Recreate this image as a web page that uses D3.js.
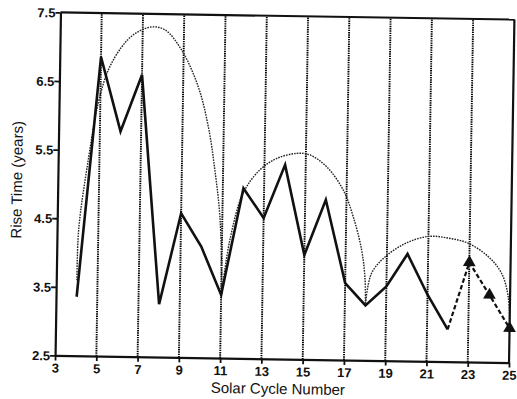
<!DOCTYPE html>
<html>
<head>
<meta charset="utf-8">
<script src="https://cdn.jsdelivr.net/npm/d3@7"></script>
<style>
  body { margin: 0; background: #fff; }
  svg { display: block; }
</style>
</head>
<body>
<div id="canvas"></div>
<script>
// rise time of each solar cycle (observed)
var cycles = [4, 5, 6, 7, 8, 9, 10, 11, 12, 13, 14, 15, 16, 17, 18, 19, 20, 21, 22];
var riseTimes = [3.36, 6.86, 5.78, 6.61, 3.27, 4.6, 4.12, 3.42, 4.98, 4.55, 5.33, 4.02, 4.83, 3.62, 3.3, 3.58, 4.06, 3.47, 2.97];

// predicted cycles (dashed, triangles)
var predCycles = [22, 23, 24, 25];
var predRise = [2.97, 3.95, 3.48, 3.0];

// dotted envelope arcs
var arc1 = [[4.0, 3.6], [4.05, 4.35], [4.46, 5.36], [4.9, 6.19], [5.36, 6.67], [5.99, 7.01], [6.63, 7.21], [7.43, 7.31], [8.08, 7.27], [8.9, 6.98], [9.73, 6.45], [10.25, 5.87], [10.6, 5.24], [10.88, 4.56], [11.01, 3.69], [11.02, 3.44]];
var arc2 = [[11.02, 3.44], [11.38, 4.22], [11.99, 4.91], [12.78, 5.25], [13.58, 5.42], [14.55, 5.5], [15.2, 5.48], [16.02, 5.31], [16.83, 4.98], [17.34, 4.59], [17.77, 4.11], [17.95, 3.72], [18.0, 3.33]];
var arc3 = [[18.0, 3.33], [18.27, 3.77], [18.91, 4.01], [19.87, 4.21], [21.0, 4.32], [21.96, 4.3], [22.93, 4.23], [23.91, 4.04], [24.57, 3.8], [24.91, 3.46], [25.0, 3.05]];

var gridCycles = [5, 7, 9, 11, 13, 15, 17, 19, 21, 23];
var xTicks = [3, 5, 7, 9, 11, 13, 15, 17, 19, 21, 23, 25];
var yTicks = [2.5, 3.5, 4.5, 5.5, 6.5, 7.5];

var W = 517, H = 399;
var pLeft = 57.75, pRight = 511.75, pTop = 16, pBottom = 359;

var svg = d3.select("#canvas").append("svg").attr("width", W).attr("height", H);
svg.append("rect").attr("width", W).attr("height", H).attr("fill", "#fff");

// the scan is tilted a little clockwise
var g = svg.append("g")
  .attr("transform", "rotate(0.9," + ((pLeft + pRight) / 2) + "," + ((pTop + pBottom) / 2) + ")");

var x = d3.scaleLinear().domain([3, 25]).range([pLeft, pRight]);
var y = d3.scaleLinear().domain([2.5, 7.5]).range([pBottom, pTop]);

// vertical dotted lines at odd cycles
g.selectAll("line.grid").data(gridCycles).enter().append("line")
  .attr("class", "grid")
  .attr("x1", function(d) { return x(d); })
  .attr("x2", function(d) { return x(d); })
  .attr("y1", y(2.5)).attr("y2", y(7.5))
  .attr("stroke", "#000").attr("stroke-width", 1.9)
  .attr("stroke-dasharray", "1.4,0.9");

// envelopes
var curve = d3.line()
  .x(function(d) { return x(d[0]); })
  .y(function(d) { return y(d[1]); })
  .curve(d3.curveCatmullRom.alpha(0.5));

[arc1, arc2, arc3].forEach(function(a) {
  g.append("path").attr("d", curve(a))
    .attr("fill", "none").attr("stroke", "#222").attr("stroke-width", 1.4)
    .attr("stroke-dasharray", "1.6,1.1");
});

var obs = cycles.map(function(c, i) { return [c, riseTimes[i]]; });
var pred = predCycles.map(function(c, i) { return [c, predRise[i]]; });

var straight = d3.line()
  .x(function(d) { return x(d[0]); })
  .y(function(d) { return y(d[1]); });

// observed line
g.append("path").attr("d", straight(obs))
  .attr("fill", "none").attr("stroke", "#111").attr("stroke-width", 2.6)
  .attr("stroke-linejoin", "miter");

// prediction
g.append("path").attr("d", straight(pred))
  .attr("fill", "none").attr("stroke", "#111").attr("stroke-width", 2.2)
  .attr("stroke-dasharray", "4.5,2.5");

g.selectAll("path.tri").data(pred.slice(1)).enter().append("path")
  .attr("class", "tri")
  .attr("d", d3.symbol().type(d3.symbolTriangle).size(70))
  .attr("transform", function(d) { return "translate(" + x(d[0]) + "," + y(d[1]) + ")"; })
  .attr("fill", "#111");

// axes
var xAxis = d3.axisBottom(x).tickValues(xTicks).tickSize(5).tickSizeOuter(0).tickFormat(d3.format("d"));
var yAxis = d3.axisLeft(y).tickValues(yTicks).tickSize(5).tickSizeOuter(0).tickFormat(d3.format(".1f"));

var gx = g.append("g").attr("transform", "translate(0," + pBottom + ")").call(xAxis);
var gy = g.append("g").attr("transform", "translate(" + pLeft + ",0)").call(yAxis);

[gx, gy].forEach(function(a) {
  a.select(".domain").attr("stroke", "#111").attr("stroke-width", 2.2);
  a.selectAll(".tick line").attr("stroke", "#111").attr("stroke-width", 1.8);
  a.selectAll(".tick text")
    .attr("fill", "#111")
    .style("font-family", "'Liberation Sans', Arial, sans-serif")
    .style("font-size", "13px")
    .style("font-weight", "bold");
});
gx.selectAll(".tick text").attr("y", 8);
gy.selectAll(".tick text").attr("x", -5).attr("dy", "0.35em");

// top and right border
g.append("line").attr("x1", pLeft).attr("x2", pRight).attr("y1", pTop).attr("y2", pTop)
  .attr("stroke", "#111").attr("stroke-width", 2.2);
g.append("line").attr("x1", pRight).attr("x2", pRight).attr("y1", pTop).attr("y2", pBottom)
  .attr("stroke", "#111").attr("stroke-width", 2.2);

// axis titles
g.append("text")
  .attr("x", 281).attr("y", 394)
  .attr("text-anchor", "middle")
  .attr("fill", "#111")
  .style("font-family", "'Liberation Sans', Arial, sans-serif")
  .style("font-size", "15px")
  .text("Solar Cycle Number");

g.append("text")
  .attr("transform", "translate(22,184) rotate(-90)")
  .attr("text-anchor", "middle")
  .attr("fill", "#111")
  .style("font-family", "'Liberation Sans', Arial, sans-serif")
  .style("font-size", "15px")
  .text("Rise Time (years)");
</script>
</body>
</html>
